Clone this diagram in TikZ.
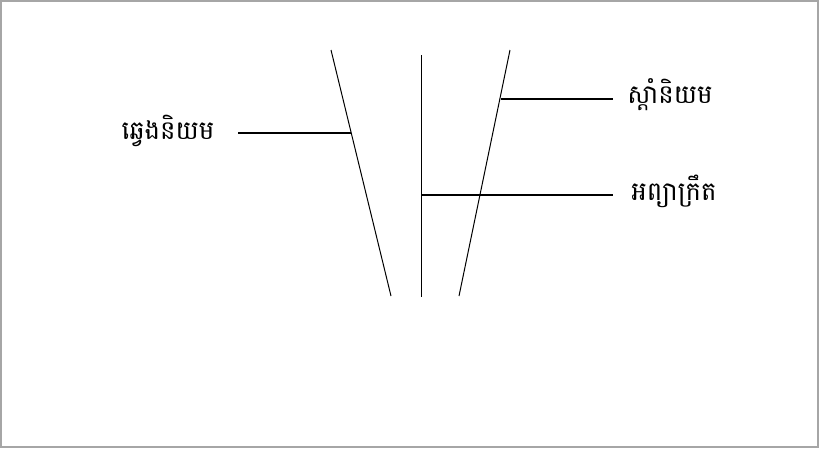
\documentclass[tikz,border=0pt]{standalone}
\usepackage{fontspec}
\newfontfamily\khmerfont[Script=Khmer]{Battambang}

\begin{document}
\begin{tikzpicture}[
  x=1pt, y=-1pt,
  axis/.style={line width=1pt},
  tie/.style={line width=1.4pt},
  label/.style={inner sep=1pt,font=\khmerfont\fontsize{26}{30}\selectfont}
]
  \useasboundingbox (0,0) rectangle (819,448);
  \draw[gray!70,line width=1.5pt] (1,1) rectangle (818,447);
  % the three lines
  \coordinate (lt) at (331,50);
  \coordinate (lb) at (391,296);
  \coordinate (mt) at (421,55);
  \coordinate (mb) at (421,297);
  \coordinate (rt) at (510,50);
  \coordinate (rb) at (459,296);
  \draw[axis] (lt) -- (lb);
  \draw[axis] (mt) -- (mb);
  \draw[axis] (rt) -- (rb);
  % labels
  \node[label] (left) at (168,131) {ឆ្វេងនិយម};
  \node[label] (right) at (670,95) {ស្តាំនិយម};
  \node[label] (neutral) at (674,191) {អព្យាក្រឹត};
  \coordinate (le) at (238,133);
  \coordinate (lj) at (351,133);
  \coordinate (rj) at (501,99);
  \coordinate (re) at (613,99);
  \coordinate (mj) at (421,195);
  \coordinate (ne) at (613,195);
  \draw[tie] (le) -- (lj);
  \draw[tie] (rj) -- (re);
  \draw[tie] (mj) -- (ne);
\end{tikzpicture}
\end{document}
